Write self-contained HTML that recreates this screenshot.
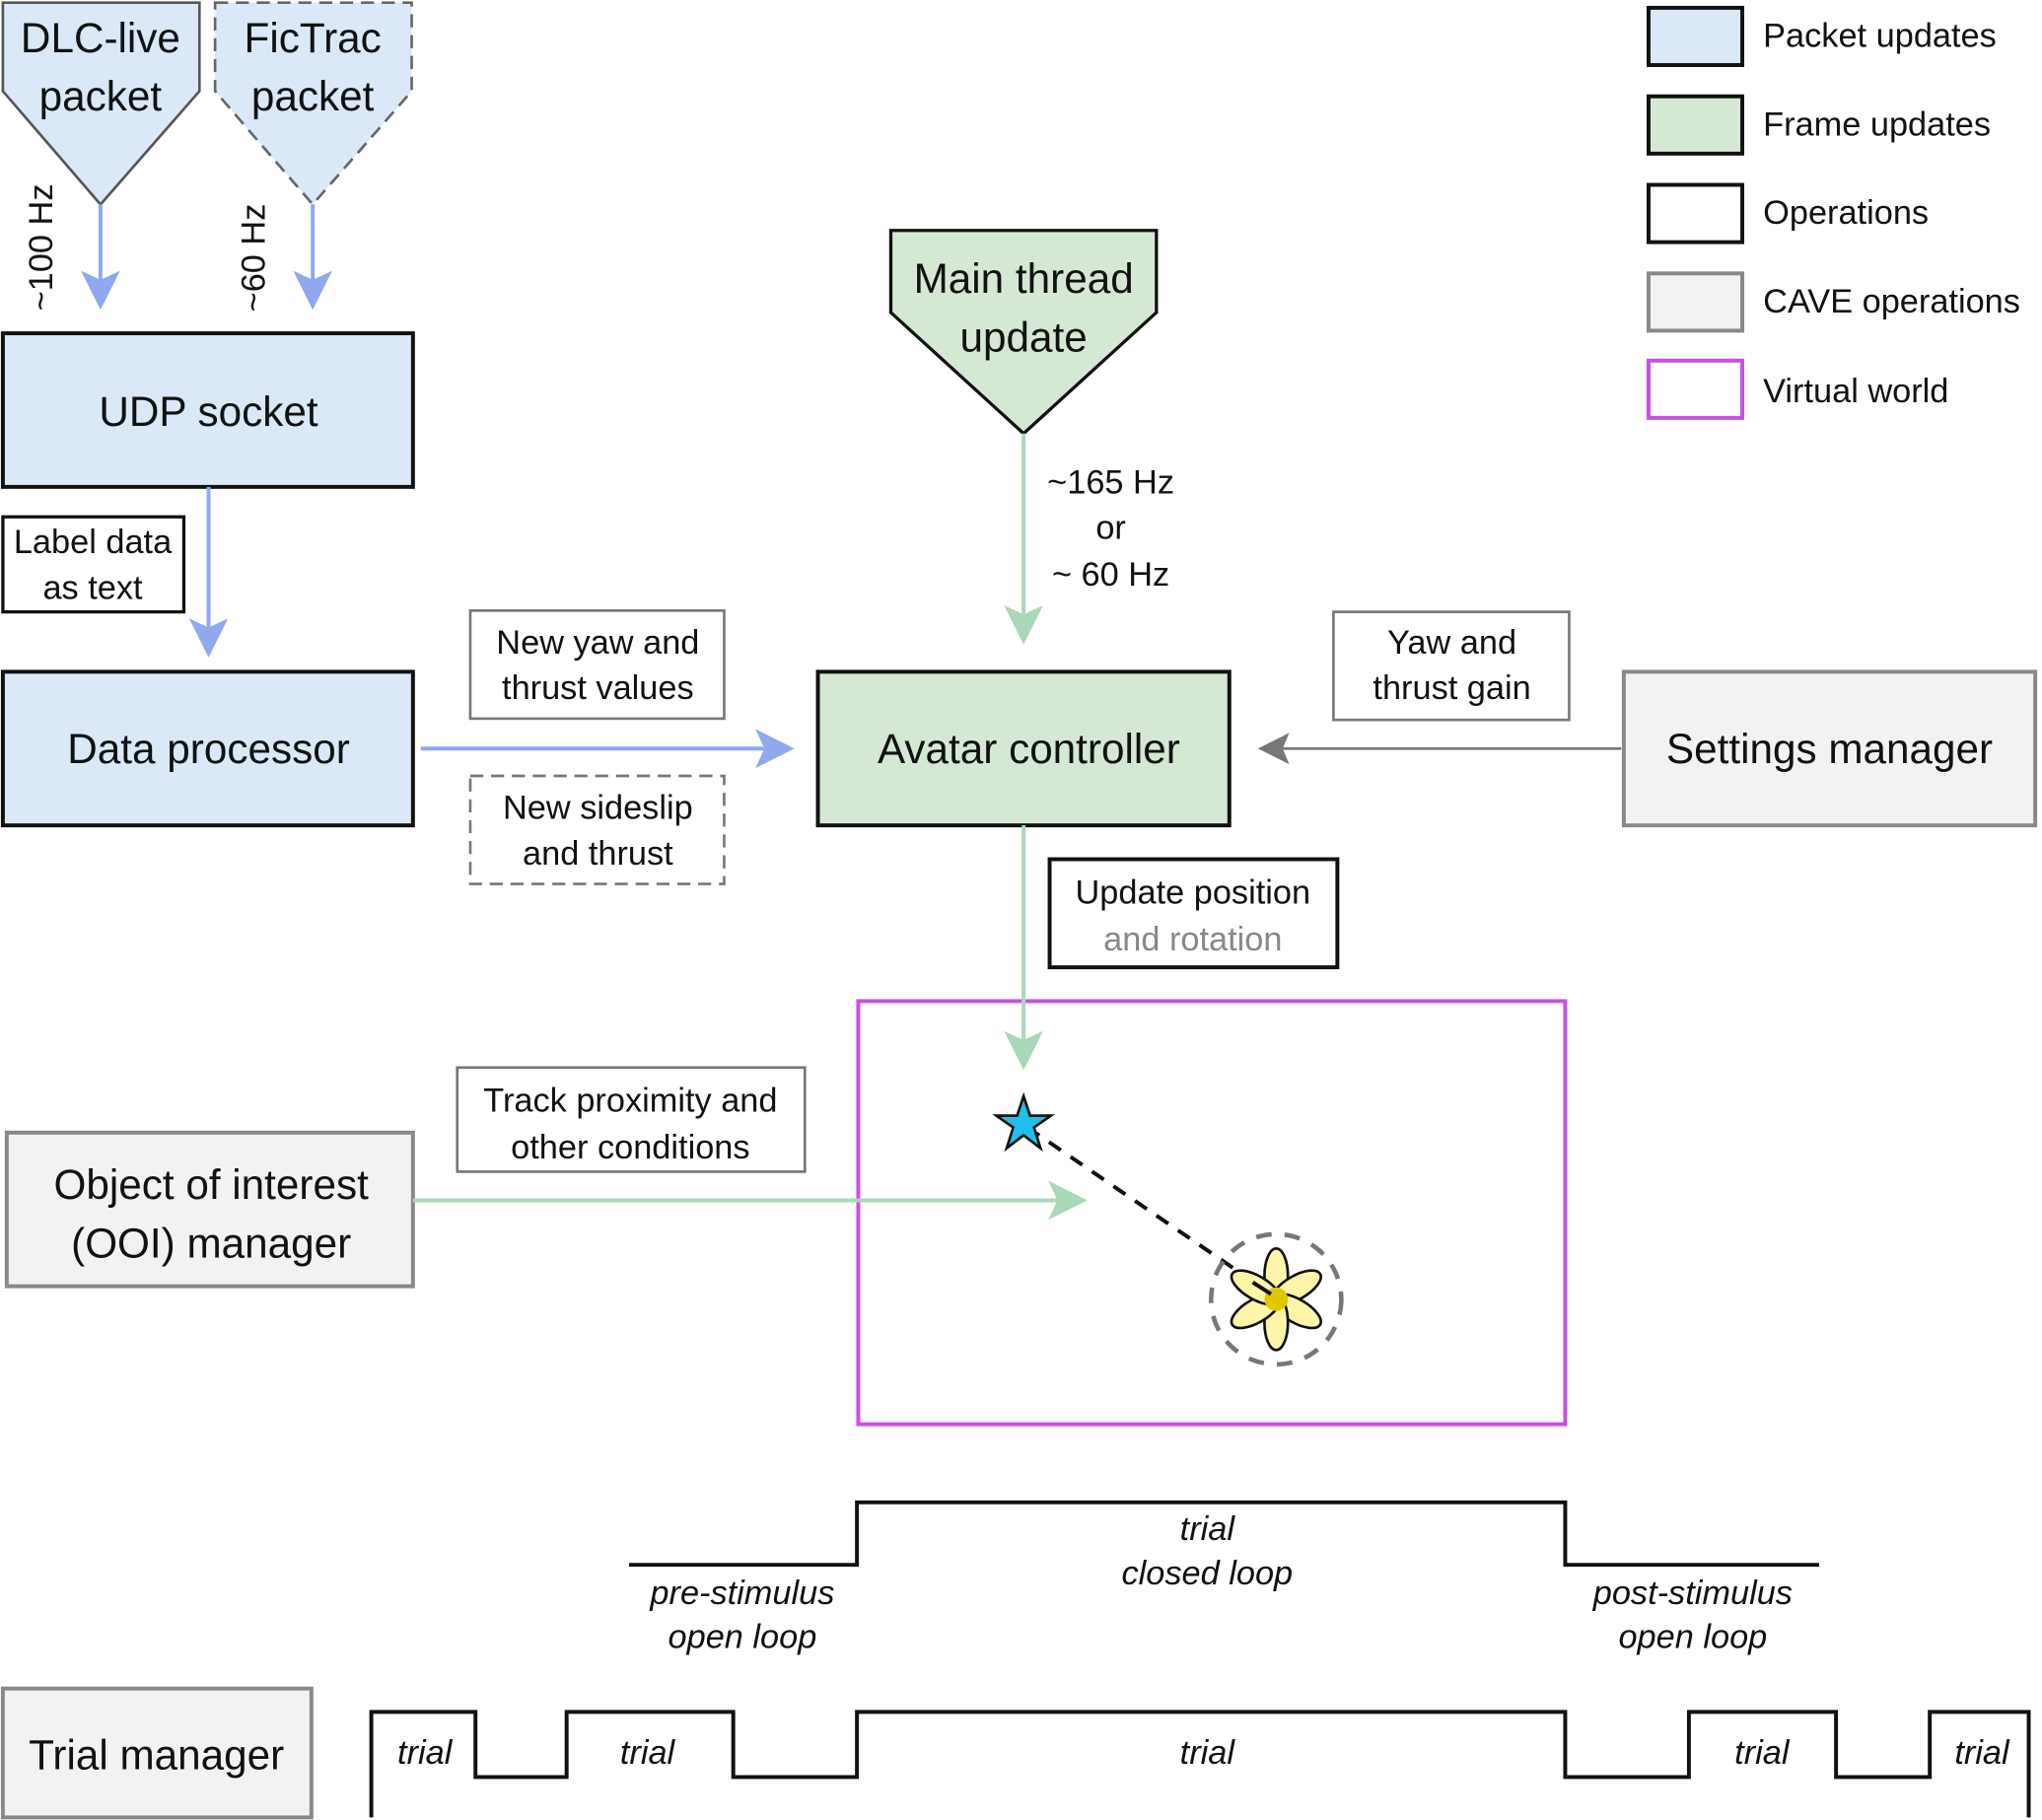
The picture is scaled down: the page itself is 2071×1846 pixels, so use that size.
<!DOCTYPE html>
<html><head><meta charset="utf-8"><style>html,body{margin:0;padding:0;background:#fff}svg{display:block}text{font-family:"Liberation Sans",sans-serif;fill:#111}</style></head>
<body>
<svg width="2071" height="1846" viewBox="0 0 1568 1398" xmlns="http://www.w3.org/2000/svg">
<defs>
<marker id="ab" markerWidth="10" markerHeight="10" refX="8" refY="5" orient="auto" markerUnits="userSpaceOnUse" viewBox="0 0 10 10"><path d="M0,0 L10,5 L0,10 L3,5Z" fill="#8fa8f0"/></marker>
</defs>
<g stroke="#111" stroke-width="3">
<!-- legend -->
<rect x="1266" y="6" width="72" height="44" fill="#dae8f8"/>
<rect x="1266" y="74" width="72" height="44" fill="#d5e8d4"/>
<rect x="1266" y="142" width="72" height="44" fill="#fff"/>
<rect x="1266" y="210" width="72" height="44" fill="#f2f2f2" stroke="#888"/>
<rect x="1266" y="277" width="72" height="44" fill="#fff" stroke="#c84ee8"/>
<!-- packets -->
<polygon points="2,2 153,2 153,70 77,157 2,70" fill="#dae8f8" stroke="#555" stroke-width="2"/>
<polygon points="165,2 316,2 316,70 240,157 165,70" fill="#dae8f8" stroke="#666" stroke-width="2" stroke-dasharray="10,6"/>
<rect x="2" y="256" width="315" height="118" fill="#dae8f8"/>
<rect x="2" y="397" width="139" height="73" fill="#fff" stroke-width="2.5"/>
<rect x="2" y="516" width="315" height="118" fill="#dae8f8"/>
<rect x="361" y="469" width="195" height="83" fill="#fff" stroke="#777" stroke-width="2"/>
<rect x="361" y="596" width="195" height="83" fill="#fff" stroke="#777" stroke-width="2" stroke-dasharray="10,6"/>
<rect x="628" y="516" width="316" height="118" fill="#d5e8d4"/>
<polygon points="684,177 888,177 888,240 786,333 684,240" fill="#d5e8d4" stroke-width="2.5"/>
<rect x="1247" y="516" width="316" height="118" fill="#f2f2f2" stroke="#888"/>
<rect x="1024" y="470" width="181" height="83" fill="#fff" stroke="#777" stroke-width="2"/>
<rect x="806" y="660" width="221" height="83" fill="#fff"/>
<rect x="659" y="769" width="543" height="325" fill="none" stroke="#c84ee8"/>
<rect x="351" y="820" width="267" height="80" fill="#fff" stroke="#777" stroke-width="2"/>
<rect x="5" y="870" width="312" height="118" fill="#f2f2f2" stroke="#888"/>
<rect x="2" y="1297" width="237" height="99" fill="#f2f2f2" stroke="#888"/>
</g>
<!-- arrows -->
<g fill="none" stroke-width="3">
<line x1="77" y1="157" x2="77" y2="220" stroke="#8fa8f0"/>
<line x1="240" y1="157" x2="240" y2="220" stroke="#8fa8f0"/>
<line x1="160" y1="374" x2="160" y2="488" stroke="#8fa8f0"/>
<line x1="323" y1="575" x2="592" y2="575" stroke="#8fa8f0"/>
<line x1="786" y1="333" x2="786" y2="478" stroke="#a8d8b8"/>
<line x1="786" y1="634" x2="786" y2="805" stroke="#a8d8b8"/>
<line x1="317" y1="922" x2="818" y2="922" stroke="#a8d8b8"/>
<line x1="1245" y1="575" x2="985" y2="575" stroke="#777" stroke-width="2"/>
</g>
<g>
<path d="M62,208 L77,238 L92,208 L77,215Z" fill="#8fa8f0"/>
<path d="M225,208 L240,238 L255,208 L240,215Z" fill="#8fa8f0"/>
<path d="M145,475 L160,505 L175,475 L160,482Z" fill="#8fa8f0"/>
<path d="M580,560 L610,575 L580,590 L587,575Z" fill="#8fa8f0"/>
<path d="M771,465 L786,495 L801,465 L786,472Z" fill="#a8d8b8"/>
<path d="M771,792 L786,822 L801,792 L786,799Z" fill="#a8d8b8"/>
<path d="M805,907 L835,922 L805,937 L812,922Z" fill="#a8d8b8"/>
<path d="M990,563 L966,575 L990,587 L985,575Z" fill="#777"/>
</g>
<!-- world -->
<line x1="789" y1="866" x2="966" y2="987" stroke="#111" stroke-width="3" stroke-dasharray="11,9"/>
<circle cx="980" cy="998" r="50" fill="none" stroke="#777" stroke-width="3.5" stroke-dasharray="12,10"/>
<g transform="translate(980,998)" stroke="#111" stroke-width="2" fill="#fdf6a8">
<ellipse rx="9" ry="21" cy="-18" transform="rotate(0)"/>
<ellipse rx="9" ry="21" cy="-18" transform="rotate(60)"/>
<ellipse rx="9" ry="21" cy="-18" transform="rotate(120)"/>
<ellipse rx="9" ry="21" cy="-18" transform="rotate(180)"/>
<ellipse rx="9" ry="21" cy="-18" transform="rotate(240)"/>
<ellipse rx="9" ry="21" cy="-18" transform="rotate(300)"/>
<circle r="9" fill="#e0c800" stroke="none"/>
</g>
<line x1="962" y1="985" x2="976" y2="994" stroke="#111" stroke-width="3"/>
<polygon points="786,842 791,857 807,857 794,866 799,882 786,872 773,882 778,866 765,857 781,857" fill="#20c0ec" stroke="#111" stroke-width="2"/>
<!-- timing -->
<polyline points="483,1202 658,1202 658,1154 1202,1154 1202,1202 1397,1202" fill="none" stroke="#111" stroke-width="3"/>
<polyline points="285,1396 285,1315 365,1315 365,1365 435,1365 435,1315 563,1315 563,1365 658,1365 658,1315 1202,1315 1202,1365 1297,1365 1297,1315 1410,1315 1410,1365 1482,1365 1482,1315 1558,1315 1558,1396" fill="none" stroke="#111" stroke-width="3"/>
<!-- text -->
<g font-size="32" text-anchor="middle">
<text x="77" y="40">DLC-live</text><text x="77" y="85">packet</text>
<text x="240" y="40">FicTrac</text><text x="240" y="85">packet</text>
<text x="160" y="327">UDP socket</text>
<text x="160" y="586">Data processor</text>
<text x="786" y="225">Main thread</text><text x="786" y="270">update</text>
<text x="790" y="586">Avatar controller</text>
<text x="1405" y="586">Settings manager</text>
<text x="162" y="921">Object of interest</text><text x="162" y="966">(OOI) manager</text>
<text x="120" y="1359">Trial manager</text>
</g>
<g font-size="26" text-anchor="middle">
<text x="40" y="190" transform="rotate(-90 40 190)">~100 Hz</text>
<text x="203" y="198" transform="rotate(-90 203 198)">~60 Hz</text>
<text x="71" y="425">Label data</text><text x="71" y="460">as text</text>
<text x="459" y="502">New yaw and</text><text x="459" y="537">thrust values</text>
<text x="459" y="629">New sideslip</text><text x="459" y="664">and thrust</text>
<text x="853" y="379">~165 Hz</text><text x="853" y="414">or</text><text x="853" y="450">~ 60 Hz</text>
<text x="1115" y="502">Yaw and</text><text x="1115" y="537">thrust gain</text>
<text x="916" y="694">Update position</text><text x="916" y="730" style="fill:#888">and rotation</text>
<text x="484" y="854">Track proximity and</text><text x="484" y="890">other conditions</text>
</g>
<g font-size="26" text-anchor="start">
<text x="1354" y="36">Packet updates</text>
<text x="1354" y="104">Frame updates</text>
<text x="1354" y="172">Operations</text>
<text x="1354" y="240">CAVE operations</text>
<text x="1354" y="309">Virtual world</text>
</g>
<g font-size="26" text-anchor="middle" font-style="italic">
<text x="927" y="1183">trial</text><text x="927" y="1217">closed loop</text>
<text x="570" y="1232">pre-stimulus</text><text x="570" y="1266">open loop</text>
<text x="1300" y="1232">post-stimulus</text><text x="1300" y="1266">open loop</text>
<text x="326" y="1355">trial</text>
<text x="497" y="1355">trial</text>
<text x="927" y="1355">trial</text>
<text x="1353" y="1355">trial</text>
<text x="1522" y="1355">trial</text>
</g>
</svg>
</body></html>
